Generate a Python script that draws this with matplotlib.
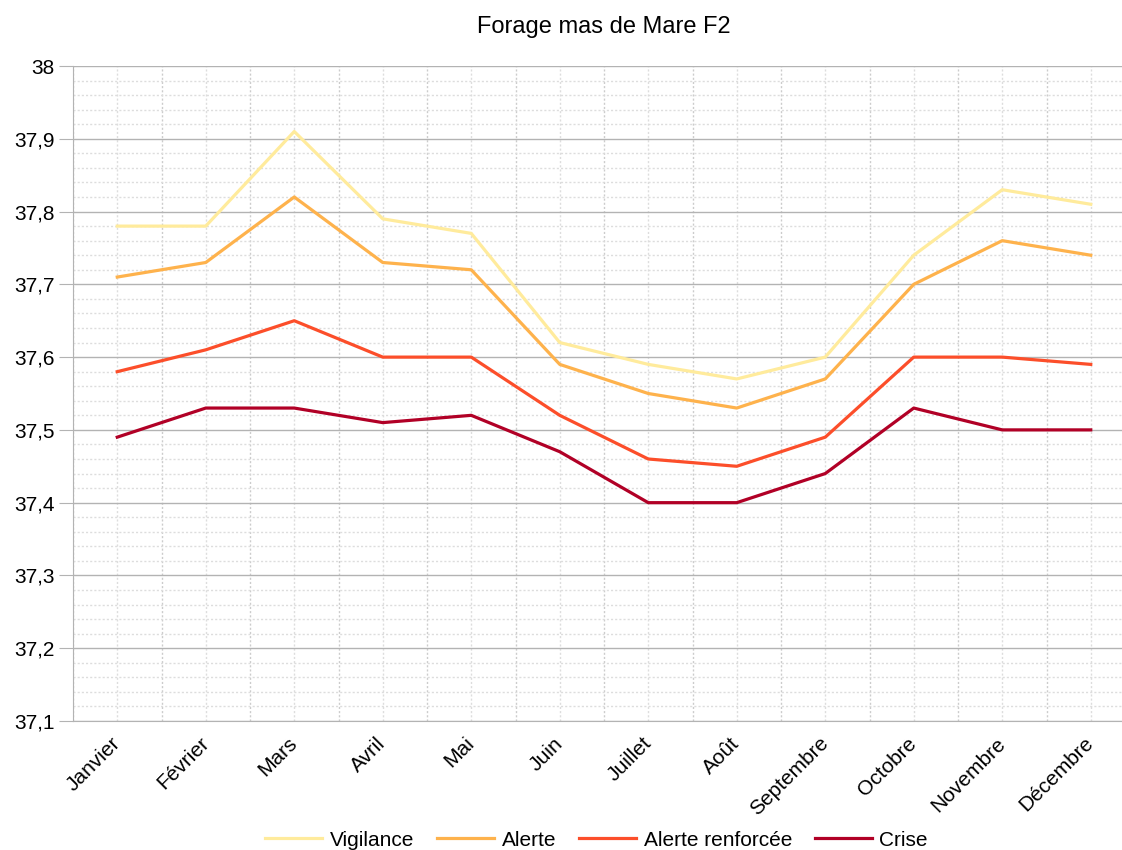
import matplotlib.pyplot as plt
from matplotlib.ticker import MultipleLocator, FixedLocator, FuncFormatter
import numpy as np

plt.rc('font', family=['Liberation Sans', 'DejaVu Sans'])

mois = ['Janvier', 'Février', 'Mars', 'Avril', 'Mai', 'Juin', 'Juillet',
        'Août', 'Septembre', 'Octobre', 'Novembre', 'Décembre']
vigilance = [37.78, 37.78, 37.91, 37.79, 37.77, 37.62, 37.59, 37.57, 37.60, 37.74, 37.83, 37.81]
alerte = [37.71, 37.73, 37.82, 37.73, 37.72, 37.59, 37.55, 37.53, 37.57, 37.70, 37.76, 37.74]
alerte_renf = [37.58, 37.61, 37.65, 37.60, 37.60, 37.52, 37.46, 37.45, 37.49, 37.60, 37.60, 37.59]
crise = [37.49, 37.53, 37.53, 37.51, 37.52, 37.47, 37.40, 37.40, 37.44, 37.53, 37.50, 37.50]

series = [('Vigilance', vigilance, '#ffeb9c'),
          ('Alerte', alerte, '#feb24c'),
          ('Alerte renforcée', alerte_renf, '#fc4e2a'),
          ('Crise', crise, '#b10026')]

fig = plt.figure(figsize=(11.22, 8.5), dpi=100)
# the plot area runs a bit past the right edge, as in the original export
ax = fig.add_axes([73/1122, 1 - 721/850, 1062/1122, 655/850])

x = np.arange(len(mois))
for nom, vals, col in series:
    ax.plot(x, vals, color=col, lw=2.3, label=nom)

ax.set_xlim(-0.5, len(mois) - 0.5)
ax.set_ylim(37.1, 38.0)
ax.yaxis.set_major_locator(MultipleLocator(0.1))
ax.yaxis.set_minor_locator(MultipleLocator(0.02))
ax.yaxis.set_major_formatter(FuncFormatter(lambda v, p: ('%g' % round(v, 2)).replace('.', ',')))
ax.set_xticks(x)
ax.set_xticklabels(mois, rotation=45, ha='right', va='center', rotation_mode='anchor')
ax.xaxis.set_minor_locator(FixedLocator(np.arange(-0.5, len(mois), 1.0)))

ax.grid(which='major', axis='y', color='#b3b3b3', lw=1)
ax.grid(which='minor', axis='y', color='#dddddd', lw=1, linestyle=(0, (1.5, 1.5)))
ax.grid(which='major', axis='x', color='#dddddd', lw=1, linestyle=(0, (1.5, 1.5)))
ax.grid(which='minor', axis='x', color='#cccccc', lw=1, linestyle=(0, (1.5, 1.5)))
ax.set_axisbelow(True)

for s in ['top', 'right']:
    ax.spines[s].set_visible(False)
for s in ['left', 'bottom']:
    ax.spines[s].set_color('#b3b3b3')
ax.tick_params(axis='y', which='major', length=10, color='#b3b3b3', labelsize=15, pad=3)
ax.tick_params(axis='y', which='minor', length=0)
ax.tick_params(axis='x', which='both', length=0, labelsize=15, pad=14)

ax.set_title('Forage mas de Mare F2', fontsize=17, pad=24)
ax.legend(loc='center', bbox_to_anchor=(0.493, -0.182), ncol=4, frameon=False,
          fontsize=15, handlelength=2.75, columnspacing=1.1, handletextpad=0.35)

fig.savefig('out.png', dpi=100)
